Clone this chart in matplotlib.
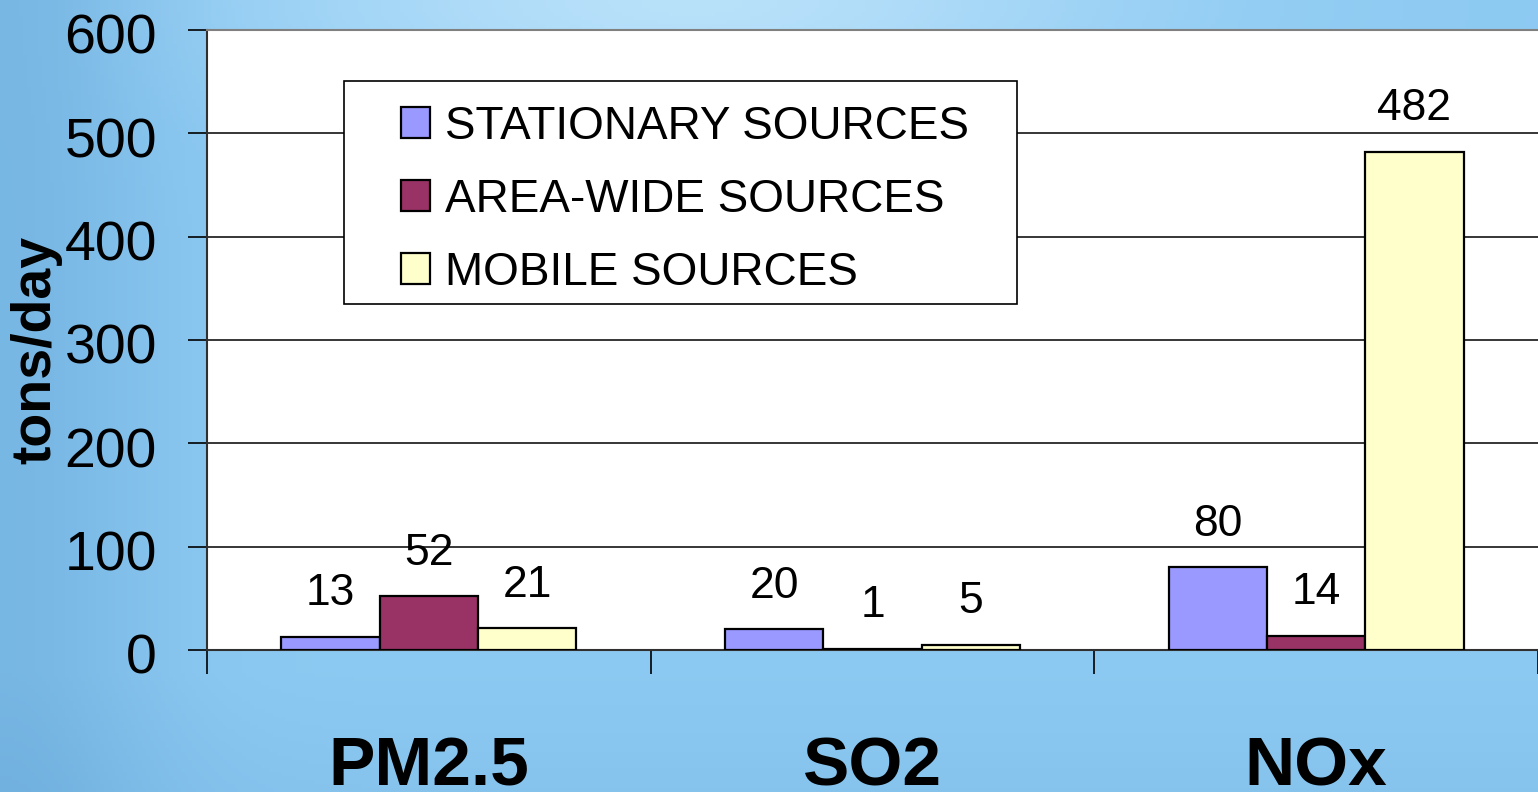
import numpy as np
import matplotlib
matplotlib.use("Agg")
import matplotlib.pyplot as plt
from matplotlib.patches import Rectangle
from matplotlib.transforms import blended_transform_factory, ScaledTranslation

categories = ["PM2.5", "SO2", "NOx"]
series_names = ["STATIONARY SOURCES", "AREA-WIDE SOURCES", "MOBILE SOURCES"]
stationary = [13, 20, 80]
area_wide = [52, 1, 14]
mobile = [21, 5, 482]
series_values = [stationary, area_wide, mobile]
series_colors = ["#9999FF", "#993366", "#FFFFCC"]
y_ticks = [0, 100, 200, 300, 400, 500, 600]

plt.rcParams['font.family'] = ['Liberation Sans', 'DejaVu Sans']

W, H = 1538, 792
fig = plt.figure(figsize=(W / 100, H / 100), dpi=100)

# background sky gradient
bg = fig.add_axes([0, 0, 1, 1], zorder=-10)
yy, xx = np.mgrid[0:1:200j, 0:1:400j]
base = np.array([0.55, 0.79, 0.95])
light = np.array([0.72, 0.88, 0.98])
dark = np.array([0.45, 0.70, 0.88])
t_light = np.clip(np.exp(-((xx - 0.45) ** 2) / 0.08 - (yy ** 2) / 0.02), 0, 1)
t_dark = np.clip(np.exp(-(xx ** 2) / 0.01), 0, 1) * 0.8 + np.clip((yy - 0.85) / 0.15, 0, 1) * 0.25
img = base[None, None, :] * (1 - t_light[..., None]) + light[None, None, :] * t_light[..., None]
img = img * (1 - t_dark[..., None]) + dark[None, None, :] * t_dark[..., None]
bg.imshow(img, aspect='auto', extent=[0, 1, 0, 1], origin='upper')
bg.axis('off')

x0, x1 = 207, 1538
ytop, ybot = 30, 650
ax = fig.add_axes([x0 / W, (H - ybot) / H, (x1 - x0) / W, (ybot - ytop) / H])
ax.set_facecolor('white')

n = len(categories)
xpos = np.arange(n)
w = 0.2214
offsets = [-w, 0, w]
for vals, name, col, off in zip(series_values, series_names, series_colors, offsets):
    bars = ax.bar(xpos + off, vals, width=w, color=col, edgecolor='black',
                  linewidth=1.6, label=name, zorder=3)
    for b, v in zip(bars, vals):
        ax.annotate(str(v), (b.get_x() + b.get_width() / 2, v),
                    xytext=(0, 31), textcoords='offset points',
                    ha='center', va='center', fontsize=32, zorder=4)

ax.set_ylim(0, 600)
ax.set_xlim(-0.5, -0.5 + (x1 - x0) / 445)
ax.set_yticks(y_ticks)
ax.set_yticklabels([str(v) for v in y_ticks], fontsize=40)
ax.tick_params(axis='y', length=14, width=1.2, pad=22, color='black')
shift = ScaledTranslation(0, -4 / 100, fig.dpi_scale_trans)
for lab in ax.get_yticklabels():
    lab.set_transform(lab.get_transform() + shift)
ax.yaxis.grid(True, color='black', linewidth=1.1)
ax.set_axisbelow(True)

ax.set_xticks(np.arange(n + 1) - 0.5)
ax.set_xticklabels([])
ax.tick_params(axis='x', length=17, width=1.2, color='black')
trans = blended_transform_factory(ax.transData, ax.transAxes)
for i, c in enumerate(categories):
    ax.text(i, -0.218, c, transform=trans, ha='center', va='baseline',
            fontsize=50, fontweight='bold', clip_on=False)

for s in ['left', 'bottom']:
    ax.spines[s].set_color('#303030')
    ax.spines[s].set_linewidth(1.5)
ax.spines['top'].set_color('#808080')
ax.spines['top'].set_linewidth(1.5)
ax.spines['right'].set_visible(False)

fig.text(36 / W, 1 - 350 / H, "tons/day", rotation=90, ha='center', va='center',
         fontsize=40, fontweight='bold')

def px2ax(px, py):
    return ((px - x0) / (x1 - x0), (ybot - py) / (ybot - ytop))

lx, ly = px2ax(344, 304)
rx, ry = px2ax(1017, 81)
ax.add_patch(Rectangle((lx, ly), rx - lx, ry - ly, transform=ax.transAxes,
                       facecolor='white', edgecolor='black', linewidth=1.2, zorder=5))
ax_anchor = px2ax(401, 105)
leg = ax.legend(loc='upper left', bbox_to_anchor=ax_anchor, frameon=False,
                fontsize=33, handlelength=0.63, handleheight=0.66,
                handletextpad=0.33, labelspacing=0.63, borderpad=0, borderaxespad=0)
leg.set_zorder(6)
for h in leg.legend_handles:
    h.set_linewidth(1.6)

fig.savefig("out.png", dpi=100)
